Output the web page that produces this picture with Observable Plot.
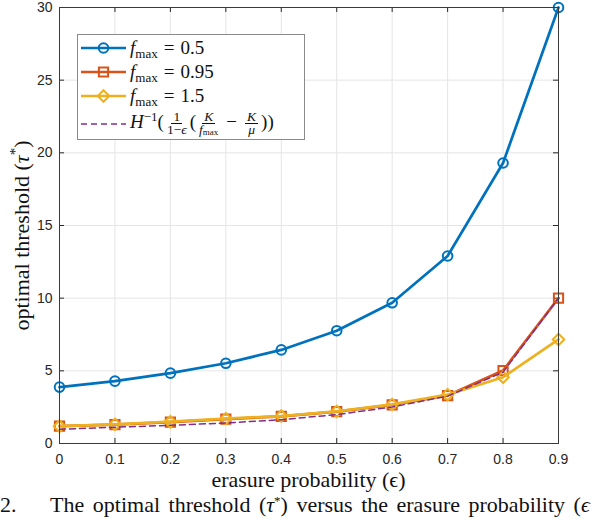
<!DOCTYPE html>
<html>
<head>
<meta charset="utf-8">
<script src="https://cdn.jsdelivr.net/npm/d3@7"></script>
<script src="https://cdn.jsdelivr.net/npm/@observablehq/plot@0.6"></script>
<style>
  body { margin: 0; background: white; }
  #wrap { position: relative; width: 598px; height: 520px; overflow: hidden; background: white; }
  #legend {
    position: absolute; left: 77px; top: 34px; width: 228px; height: 106px;
    box-sizing: border-box; border: 1px solid #8a8a8a; background: white;
    font-family: "Liberation Serif", "DejaVu Serif", serif; font-size: 19px; color: #111;
    padding-top: 1px;
  }
  .row { display: flex; align-items: center; height: 24px; white-space: nowrap; }
  .row.tall { height: 29px; margin-top: 1px; }
  .row svg { margin-left: 3px; margin-right: 4px; flex: none; }
  .eq { margin: 0 6px; }
  .op { margin: 0 5px; }
  sub { font-size: 13px; line-height: 0; vertical-align: -4px; }
  sup { font-size: 13px; line-height: 0; vertical-align: 7px; }
  .frac { display: inline-flex; flex-direction: column; align-items: center; font-size: 13.5px;
          line-height: 12.5px; vertical-align: middle; margin: 0 3px; }
  .frac > span:first-child { border-bottom: 0.9px solid #111; padding: 0 2px; }
  .frac sub { font-size: 9px; vertical-align: -1px; }
  #caption {
    position: absolute; left: 0; top: 493px; white-space: nowrap; line-height: 24px;
    font-family: "Liberation Serif", "DejaVu Serif", serif; font-size: 22px; color: #111;
    word-spacing: 3px;
  }
</style>
</head>
<body>
<div id="wrap">
  <div id="chart"></div>
  <div id="legend"></div>
  <div id="caption">2.&nbsp;&nbsp;&nbsp; The optimal threshold (<i>τ</i><sup>*</sup>) versus the erasure probability (<i>ϵ</i></div>
</div>
<script>
// erasure probability values (x)
const eps = [0, 0.1, 0.2, 0.3, 0.4, 0.5, 0.6, 0.7, 0.8, 0.9];
// optimal threshold for each f_max
const tau05  = [3.88, 4.29, 4.84, 5.52, 6.44, 7.76, 9.68, 12.9, 19.3, 30];
const tau095 = [1.19, 1.3, 1.47, 1.68, 1.87, 2.19, 2.66, 3.3, 5.02, 10];
const tau15  = [1.19, 1.32, 1.5, 1.71, 1.89, 2.21, 2.69, 3.36, 4.56, 7.16];
// H^-1 bound
const bound  = [0.98, 1.12, 1.25, 1.41, 1.64, 1.99, 2.51, 3.26, 4.9, 10];

const xTicks = [0, 0.1, 0.2, 0.3, 0.4, 0.5, 0.6, 0.7, 0.8, 0.9];
const yTicks = [0, 5, 10, 15, 20, 25, 30];

const blue = "#0072BD", orange = "#D95319", yellow = "#EDB120", purple = "#7E2F8E";

const series = [
  {name: "0.5",  values: tau05,  color: blue,   symbol: "circle"},
  {name: "0.95", values: tau095, color: orange, symbol: "square"},
  {name: "1.5",  values: tau15,  color: yellow, symbol: "diamond2"}
];

const rows = vals => eps.map((e, i) => ({x: e, y: vals[i]}));

const axisColor = "#262626";
const tickLenX = 0.009, tickLenY = 0.34;

let chart = Plot.plot({
  width: 598,
  height: 520,
  marginLeft: 59,
  marginRight: 40,
  marginTop: 7,
  marginBottom: 77,
  style: {fontFamily: "'Liberation Sans', Arial, sans-serif", fontSize: "14px", color: axisColor, background: "white", overflow: "visible"},
  x: {domain: [0, 0.9]},
  y: {domain: [0, 30]},
  marks: [
    Plot.gridX(xTicks, {stroke: "#e5e5e5", strokeOpacity: 1}),
    Plot.gridY(yTicks, {stroke: "#e5e5e5", strokeOpacity: 1}),
    // inward ticks on all four sides
    Plot.ruleX(xTicks, {x: d => d, y1: 0, y2: tickLenY, stroke: axisColor}),
    Plot.ruleX(xTicks, {x: d => d, y1: 30, y2: 30 - tickLenY, stroke: axisColor}),
    Plot.ruleY(yTicks, {y: d => d, x1: 0, x2: tickLenX, stroke: axisColor}),
    Plot.ruleY(yTicks, {y: d => d, x1: 0.9, x2: 0.9 - tickLenX, stroke: axisColor}),
    ...series.flatMap(s => [
      Plot.line(rows(s.values), {x: "x", y: "y", stroke: s.color, strokeWidth: 2.7}),
      Plot.dot(rows(s.values), {x: "x", y: "y", stroke: s.color, symbol: s.symbol, r: s.symbol === "circle" ? 4.8 : 5.2, fill: "none", strokeWidth: 2})
    ]),
    Plot.line(rows(bound), {x: "x", y: "y", stroke: purple, strokeWidth: 1.5, strokeDasharray: "6,4"}),
    Plot.frame({stroke: "#3a3a3a", strokeWidth: 1}),
    Plot.axisX({ticks: xTicks, tickSize: 0, tickPadding: 11, tickFormat: d => String(d), label: null}),
    Plot.axisY({ticks: yTicks, tickSize: 0, tickPadding: 7, label: null})
  ]
});

d3.select('#chart').append(() => chart);

const svg = d3.select(chart);
const serif = "'Liberation Serif', 'DejaVu Serif', serif";
svg.append("text")
  .attr("x", 308.5).attr("y", 487)
  .attr("text-anchor", "middle")
  .attr("font-family", serif).attr("font-size", 22).attr("fill", "#111")
  .attr("textLength", 194).attr("lengthAdjust", "spacing")
  .text("erasure probability (ϵ)");

const yl = svg.append("text")
  .attr("transform", "translate(29,235.5) rotate(-90)")
  .attr("text-anchor", "middle")
  .attr("font-family", serif).attr("font-size", 22).attr("fill", "#111");
yl.append("tspan").text("optimal threshold (");
yl.append("tspan").attr("font-style", "italic").text("τ");
yl.append("tspan").attr("dy", -9).attr("font-size", 15).text("*");
yl.append("tspan").attr("dy", 9).text(")");

// legend
const legend = d3.select("#legend");
const fmax = '<i>f</i><sub>max</sub>';
function sample(row, s) {
  const g = row.append("svg").attr("width", 45).attr("height", 20);
  g.append("line").attr("x1", 0).attr("x2", 45).attr("y1", 10).attr("y2", 10)
    .attr("stroke", s.color).attr("stroke-width", s.dash ? 1.5 : 2.7)
    .attr("stroke-dasharray", s.dash ? "6,4" : null);
  if (s.symbol) {
    const size = s.symbol === "circle" ? Math.PI * 4.8 * 4.8 : Math.PI * 27;
    const sym = {circle: d3.symbolCircle, square: d3.symbolSquare, diamond2: d3.symbolDiamond2}[s.symbol];
    g.append("path").attr("transform", "translate(22.5,10)")
      .attr("d", d3.symbol(sym, size)())
      .attr("fill", "none").attr("stroke", s.color).attr("stroke-width", 2);
  }
}
series.forEach(s => {
  const row = legend.append("div").attr("class", "row");
  sample(row, s);
  row.append("span").html(`${fmax}<span class="eq">=</span>${s.name}`);
});
const last = legend.append("div").attr("class", "row tall");
sample(last, {color: purple, dash: true});
last.append("span").html(
  '<i>H</i><sup>−1</sup>(<span class="frac"><span>1</span><span>1−<i>ϵ</i></span></span>(' +
  '<span class="frac"><span><i>K</i></span><span><i>f</i><sub>max</sub></span></span><span class="op">−</span>' +
  '<span class="frac"><span><i>K</i></span><span><i>μ</i></span></span>))'
);
</script>
</body>
</html>
